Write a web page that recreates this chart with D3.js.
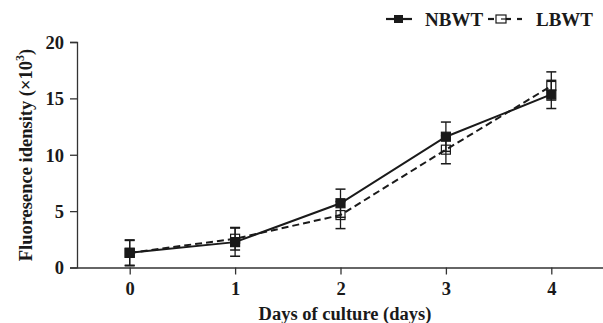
<!DOCTYPE html>
<html>
<head>
<meta charset="utf-8">
<script src="https://cdn.jsdelivr.net/npm/d3@7"></script>
<style>
  body { margin: 0; background: #fff; }
  text { font-family: "Liberation Serif", "Times New Roman", serif; font-weight: bold; fill: #1a1a1a; }
</style>
</head>
<body>
<script>
width = 603
height = 323

// data
days = [0, 1, 2, 3, 4]
nbwt = [1.3, 2.25, 5.7, 11.6, 15.35]
nbwtErr = [1.15, 1.25, 1.25, 1.3, 1.25]
lbwt = [1.3, 2.55, 4.65, 10.45, 16.1]
lbwtErr = [1.1, 1.0, 1.2, 1.25, 1.25]
yTicks = [0, 5, 10, 15, 20]

svg = d3.select("body")
    .append("svg")
    .attr("width", width)
    .attr("height", height)

x = d3.scaleLinear().domain([-0.5, 4.5]).range([77, 604])
y = d3.scaleLinear().domain([0, 20]).range([267.5, 42])

// axes
yAxis = svg.append("g")
    .attr("transform", "translate(77,0)")
    .call(d3.axisLeft(y).tickValues(yTicks).tickFormat(d3.format("d")).tickSize(7).tickPadding(6))
yAxis.selectAll("text").style("font-size", "18.5px").attr("dy", "0.34em")

xAxis = svg.append("g")
    .attr("transform", "translate(0,267.5)")
    .call(d3.axisBottom(x).tickValues(days).tickFormat(d3.format("d")).tickSize(7).tickPadding(7).tickSizeOuter(0))
xAxis.selectAll("text").style("font-size", "18.5px")

svg.selectAll(".domain, .tick line").attr("stroke", "#333").attr("stroke-width", 1.3)

// titles
svg.append("text")
    .attr("x", 345)
    .attr("y", 320)
    .attr("text-anchor", "middle")
    .style("font-size", "18.5px")
    .text("Days of culture (days)")

yTitle = svg.append("text")
    .attr("transform", "translate(32,155) rotate(-90)")
    .attr("text-anchor", "middle")
    .style("font-size", "18.5px")
yTitle.append("tspan").text("Fluoresence idensity (×10")
yTitle.append("tspan").attr("dy", -8).style("font-size", "12px").text("3")
yTitle.append("tspan").attr("dy", 8).text(")")

function drawSeries(vals, errs, dashed, filled) {
    g = svg.append("g")
    line = d3.line().x((d, i) => x(days[i])).y(d => y(d))
    g.append("path")
        .datum(vals)
        .attr("d", line)
        .attr("fill", "none")
        .attr("stroke", "#1a1a1a")
        .attr("stroke-width", 2)
        .attr("stroke-dasharray", dashed ? "7,4" : null)
    // error bars
    vals.forEach(function(v, i) {
        cx = x(days[i])
        g.append("line")
            .attr("x1", cx).attr("x2", cx)
            .attr("y1", y(v - errs[i])).attr("y2", y(v + errs[i]))
            .attr("stroke", "#1a1a1a").attr("stroke-width", 1.3)
        ;[v - errs[i], v + errs[i]].forEach(function(e) {
            g.append("line")
                .attr("x1", cx - 5).attr("x2", cx + 5)
                .attr("y1", y(e)).attr("y2", y(e))
                .attr("stroke", "#1a1a1a").attr("stroke-width", 1.5)
        })
    })
    g.selectAll("rect")
        .data(vals)
        .enter()
        .append("rect")
        .attr("x", (d, i) => x(days[i]) - 4.5)
        .attr("y", d => y(d) - 4.5)
        .attr("width", 9)
        .attr("height", 9)
        .attr("fill", filled ? "#1a1a1a" : "#fff")
        .attr("fill-opacity", filled ? 1 : 0)
        .attr("stroke", "#1a1a1a")
        .attr("stroke-width", 1.2)
}

drawSeries(lbwt, lbwtErr, true, false)
drawSeries(nbwt, nbwtErr, false, true)

// legend
leg = svg.append("g")
leg.append("line").attr("x1", 386).attr("x2", 412).attr("y1", 19).attr("y2", 19)
    .attr("stroke", "#1a1a1a").attr("stroke-width", 2.2)
leg.append("rect").attr("x", 394).attr("y", 15).attr("width", 9).attr("height", 8).attr("fill", "#1a1a1a")
leg.append("text").attr("x", 425).attr("y", 25.5).style("font-size", "19px").text("NBWT")

leg.append("line").attr("x1", 488).attr("x2", 494).attr("y1", 19).attr("y2", 19)
    .attr("stroke", "#1a1a1a").attr("stroke-width", 2.2)
leg.append("line").attr("x1", 506).attr("x2", 511).attr("y1", 19).attr("y2", 19)
    .attr("stroke", "#1a1a1a").attr("stroke-width", 2.2)
leg.append("line").attr("x1", 517).attr("x2", 522).attr("y1", 19).attr("y2", 19)
    .attr("stroke", "#1a1a1a").attr("stroke-width", 2.2)
leg.append("rect").attr("x", 496).attr("y", 15).attr("width", 10).attr("height", 8)
    .attr("fill", "#fff").attr("stroke", "#1a1a1a").attr("stroke-width", 1.2)
leg.append("line").attr("x1", 501).attr("x2", 506).attr("y1", 19).attr("y2", 19)
    .attr("stroke", "#1a1a1a").attr("stroke-width", 1.2)
leg.append("text").attr("x", 536).attr("y", 25.5).style("font-size", "19px").text("LBWT")
</script>
</body>
</html>
